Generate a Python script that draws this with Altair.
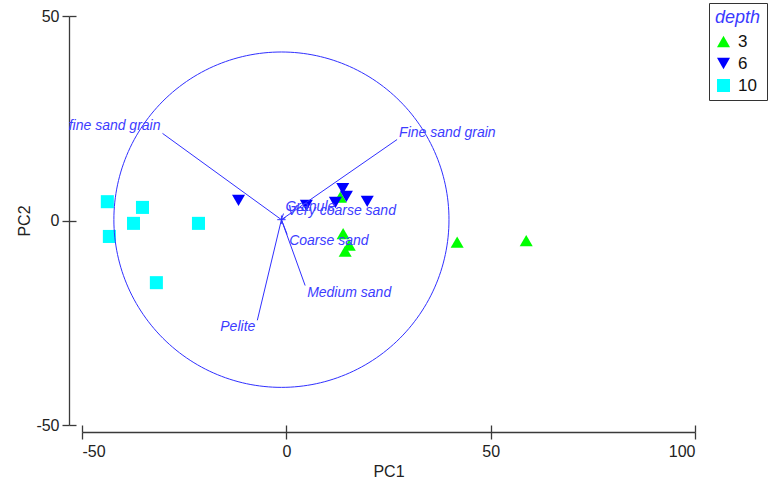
import altair as alt
import numpy as np
import pandas as pd

# Sample scores on the first two principal components, by depth
depth_3_pc1 = [13.2, 13.9, 15.4, 14.4, 41.8, 58.7]
depth_3_pc2 = [5.7, -3.2, -6.0, -7.5, -5.3, -4.9]
depth_6_pc1 = [-11.7, 4.9, 13.8, 14.7, 12.0, 19.8]
depth_6_pc2 = [4.9, 3.7, 7.8, 5.9, 4.4, 4.7]
depth_10_pc1 = [-43.8, -35.2, -37.4, -43.3, -21.5, -31.8]
depth_10_pc2 = [4.6, 3.2, -0.7, -3.9, -0.7, -15.2]

depth_levels = ["3", "6", "10"]
depth_colors = ["#00ff00", "#0000ff", "#00ffff"]
depth_shapes = ["triangle-up", "triangle-down", "square"]
depth_sizes = [170, 170, 121]

# Variable vectors (end points) drawn from the biplot origin
var_names = ["Fine sand grain", "fine sand grain", "Granule", "Very coarse sand",
             "Coarse sand", "Medium sand", "Pelite"]
var_pc1 = [27.1, -30.3, -0.7, -0.2, 0.2, 4.6, -7.1]
var_pc2 = [19.8, 21.3, 1.7, 0.7, -3.4, -15.9, -24.4]

origin_pc1 = -1.2
origin_pc2 = 0.2
circle_radius = 41.0

x_ticks = [-50, 0, 50, 100]
y_ticks = [-50, 0, 50]

FONT = "Liberation Sans"
VEC_BLUE = "#3030ff"
LABEL_BLUE = "#3c3cff"
AXIS_GREY = "#3a3a3a"

W, H = 613, 409

# ---- tables -------------------------------------------------------------
points = pd.concat([
    pd.DataFrame({"PC1": depth_3_pc1, "PC2": depth_3_pc2, "depth": "3"}),
    pd.DataFrame({"PC1": depth_6_pc1, "PC2": depth_6_pc2, "depth": "6"}),
    pd.DataFrame({"PC1": depth_10_pc1, "PC2": depth_10_pc2, "depth": "10"}),
], ignore_index=True)

vectors = pd.DataFrame({"name": var_names, "x": var_pc1, "y": var_pc2})
vectors["x0"] = origin_pc1
vectors["y0"] = origin_pc2
vectors["side"] = np.where(vectors["x"] >= vectors["x0"], "right", "left")
vectors["vert"] = np.where(vectors["y"] >= vectors["y0"], "up", "down")

theta = np.linspace(0, 2 * np.pi, 241)
circle = pd.DataFrame({
    "i": np.arange(theta.size),
    "x": origin_pc1 + circle_radius * np.cos(theta),
    "y": origin_pc2 + circle_radius * np.sin(theta),
})

origin = pd.DataFrame({"x": [origin_pc1], "y": [origin_pc2]})

xscale = alt.Scale(domain=[-50, 100], nice=False, zero=False)
yscale = alt.Scale(domain=[-50, 50], nice=False, zero=False)

axis_common = dict(
    grid=False, domainColor=AXIS_GREY, tickColor=AXIS_GREY, domainWidth=1.3,
    tickWidth=1.3, tickSize=7, labelFont=FONT, labelFontSize=16, labelColor="#222",
    titleFont=FONT, titleFontSize=16, titleFontWeight="normal", titleColor="#222",
    labelExpr="'' + datum.value",
)

# main axes: detached from the plot area, ticks pointing outward
x_axis_main = alt.Axis(values=x_ticks, orient="bottom", offset=7, labelPadding=4,
                       title="PC1", titlePadding=4, **axis_common)
y_axis_main = alt.Axis(values=y_ticks, orient="left", offset=13, labelPadding=3,
                       title="PC2", titlePadding=3, **axis_common)
# inner halves of the ticks, so they cross the axis lines
x_axis_inner = alt.Axis(values=x_ticks, orient="bottom", offset=0, domain=False,
                        labels=False, title=None, grid=False, tickColor=AXIS_GREY,
                        tickWidth=1.3, tickSize=7)
y_axis_inner = alt.Axis(values=y_ticks, orient="left", offset=6, domain=False,
                        labels=False, title=None, grid=False, tickColor=AXIS_GREY,
                        tickWidth=1.3, tickSize=7)

legend = alt.Legend(
    orient="none", legendX=627, legendY=-13, title="depth",
    titleFont=FONT, titleFontSize=18, titleFontStyle="italic", titleFontWeight="normal",
    titleColor="#3a3aff", titlePadding=6, labelFont=FONT, labelFontSize=17,
    labelColor="#111", symbolSize=150, symbolStrokeWidth=0, labelOffset=6,
    rowPadding=4, padding=6, strokeColor="#333", fillColor="white",
)

pts = alt.Chart(points).mark_point(filled=True, opacity=1).encode(
    x=alt.X("PC1:Q", scale=xscale, axis=x_axis_main),
    y=alt.Y("PC2:Q", scale=yscale, axis=y_axis_main),
    color=alt.Color("depth:N", scale=alt.Scale(domain=depth_levels, range=depth_colors),
                    legend=legend),
    shape=alt.Shape("depth:N", scale=alt.Scale(domain=depth_levels, range=depth_shapes),
                    legend=legend),
    size=alt.Size("depth:N", scale=alt.Scale(domain=depth_levels, range=depth_sizes),
                  legend=None),
)

circ = alt.Chart(circle).mark_line(color=VEC_BLUE, strokeWidth=1).encode(
    x=alt.X("x:Q", scale=xscale, axis=x_axis_inner),
    y=alt.Y("y:Q", scale=yscale, axis=y_axis_inner),
    order="i:Q",
)

vec = alt.Chart(vectors).mark_rule(color=VEC_BLUE, strokeWidth=1).encode(
    x=alt.X("x0:Q", scale=xscale, axis=None),
    y=alt.Y("y0:Q", scale=yscale, axis=None),
    x2="x:Q",
    y2="y:Q",
)

cross = alt.Chart(origin).mark_point(
    shape="M-1,0L1,0M0,-1L0,1", size=70, filled=False, color=VEC_BLUE, strokeWidth=1,
    opacity=1,
).encode(
    x=alt.X("x:Q", scale=xscale, axis=None),
    y=alt.Y("y:Q", scale=yscale, axis=None),
)

labels = []
for side in ["left", "right"]:
    for vert in ["up", "down"]:
        labels.append(
            alt.Chart(vectors).transform_filter(
                (alt.datum.side == side) & (alt.datum.vert == vert)
            ).mark_text(
                align="left" if side == "right" else "right",
                baseline="bottom" if vert == "up" else "top",
                dx=2 if side == "right" else -2,
                font=FONT, fontSize=14, fontStyle="italic", color=LABEL_BLUE,
            ).encode(
                x=alt.X("x:Q", scale=xscale, axis=None),
                y=alt.Y("y:Q", scale=yscale, axis=None),
                text="name:N",
            )
        )

chart = alt.layer(pts, circ, vec, cross, *labels).resolve_axis(
    x="independent", y="independent"
).properties(
    width=W, height=H,
    background="white",
    autosize=alt.AutoSizeParams(type="none"),
    padding={"left": 82, "top": 16, "right": 770 - 82 - W, "bottom": 480 - 16 - H},
).configure_view(stroke=None, strokeWidth=0)

chart.save("out.html", embed_options={"renderer": "svg", "actions": False})
